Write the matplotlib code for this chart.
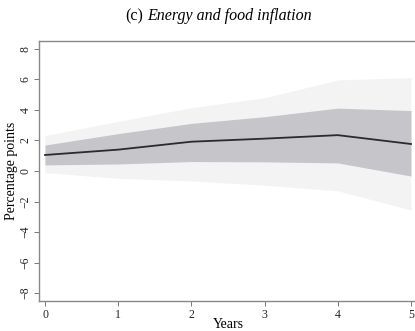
import matplotlib
matplotlib.use("Agg")
import matplotlib.pyplot as plt

# Impulse response, energy and food inflation
years = [0, 1, 2, 3, 4, 5]
response = [1.05, 1.40, 1.92, 2.12, 2.35, 1.77]
band68_low = [0.40, 0.46, 0.62, 0.60, 0.53, -0.33]
band68_high = [1.70, 2.45, 3.12, 3.56, 4.12, 3.96]
band90_low = [-0.10, -0.48, -0.65, -0.93, -1.30, -2.56]
band90_high = [2.32, 3.25, 4.15, 4.80, 5.97, 6.12]
yticks = [-8, -6, -4, -2, 0, 2, 4, 6, 8]

plt.rcParams['font.family'] = ['Liberation Serif', 'DejaVu Serif']

fig = plt.figure(figsize=(4.15, 3.31), dpi=100)
ax = fig.add_axes([39 / 415, 1 - 301 / 331, 1 - 39 / 415, (301 - 41) / 331])

ax.fill_between(years, band90_low, band90_high, color='#f3f3f3', linewidth=0)
ax.fill_between(years, band68_low, band68_high, color='#c6c6ca', linewidth=0)
ax.plot(years, response, color='#2b2b2b', linewidth=1.3)

ax.set_xlim(-0.082, 5.055)
ax.set_ylim(-8.52, 8.52)
ax.set_xticks(years)
ax.set_yticks(yticks)
ax.tick_params(axis='both', direction='out', length=3.5, width=0.7,
               color='#777777', labelsize=8.5, labelcolor='#222222', pad=2)
ax.tick_params(axis='y', labelrotation=90)
for lab in ax.get_yticklabels():
    lab.set_va('center')

for side in ['left', 'bottom', 'top']:
    ax.spines[side].set_color('#888888')
    ax.spines[side].set_linewidth(1.0)
ax.spines['right'].set_visible(False)

ax.set_xlabel('Years', fontsize=10, va='center')
ax.xaxis.set_label_coords(0.503, -0.09)
ax.set_ylabel('Percentage points', fontsize=10, labelpad=1)

fig.text(143 / 415, 1 - 16 / 331, '(c)', fontsize=11.5, ha='right', va='center')
fig.text(147 / 415, 1 - 16 / 331, 'Energy and food inflation', fontsize=11.5,
         style='italic', ha='left', va='center')

fig.savefig('out.png', dpi=100)
